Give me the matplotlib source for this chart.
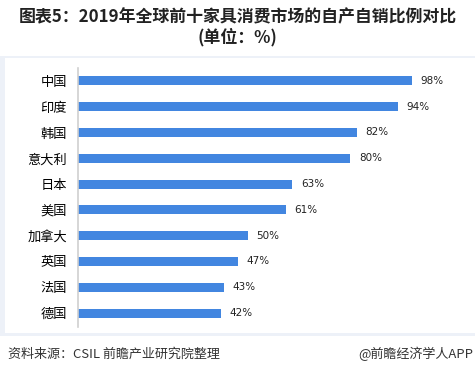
import matplotlib
matplotlib.use("Agg")
import matplotlib.pyplot as plt
from matplotlib.patches import Rectangle

plt.rcParams['font.family'] = ['Noto Sans CJK SC', 'DejaVu Sans']

countries = ['中国', '印度', '韩国', '意大利', '日本', '美国', '加拿大', '英国', '法国', '德国']
ratios = [98, 94, 82, 80, 63, 61, 50, 47, 43, 42]

W, H = 475, 376
fig = plt.figure(figsize=(W / 100, H / 100), dpi=100)

# light frame behind the plot
fig.patches.append(Rectangle((0, 1 - 336 / H), 1, (336 - 56) / H, transform=fig.transFigure,
                             facecolor='#edf1f8', edgecolor='none', zorder=-2))
fig.patches.append(Rectangle((5 / W, 1 - 333 / H), 1 - 5 / W, (333 - 58) / H, transform=fig.transFigure,
                             facecolor='white', edgecolor='none', zorder=-1))

ax = fig.add_axes([78 / W, 1 - 327 / H, (466 - 78) / W, (327 - 68) / H])
ax.set_zorder(2)
ax.patch.set_alpha(0)

y = range(len(countries))
bars = ax.barh(y, ratios, height=0.35, color='#4286e0')
for yi, v in zip(y, ratios):
    ax.text(v + 2.5, yi, f'{v}%', va='center', ha='left', fontsize=7.5,
            color='#222222', family=['DejaVu Sans'])

ax.set_xlim(0, 114)
ax.set_ylim(len(countries) - 0.46, -0.5)
ax.set_yticks(list(y))
ax.set_yticklabels(countries, fontsize=9.5)
ax.tick_params(axis='y', length=0, pad=8)
ax.set_xticks([])
for s in ['top', 'right', 'bottom']:
    ax.spines[s].set_visible(False)
ax.spines['left'].set_color('#d0d0d0')
ax.spines['left'].set_linewidth(1.2)

fig.text(0.5, 1 - 17 / H, '图表5：2019年全球前十家具消费市场的自产自销比例对比',
         ha='center', va='center', fontsize=12.2, fontweight='bold', color='#222222')
fig.text(0.5, 1 - 37 / H, '(单位：%)',
         ha='center', va='center', fontsize=12.2, fontweight='bold', color='#222222')

fig.text(8 / W, 1 - 354 / H, '资料来源：CSIL 前瞻产业研究院整理', ha='left', va='center',
         fontsize=9.4, color='#333333')
fig.text(473 / W, 1 - 354 / H, '@前瞻经济学人APP', ha='right', va='center',
         fontsize=9.4, color='#333333')

fig.savefig('out.png', dpi=100)
